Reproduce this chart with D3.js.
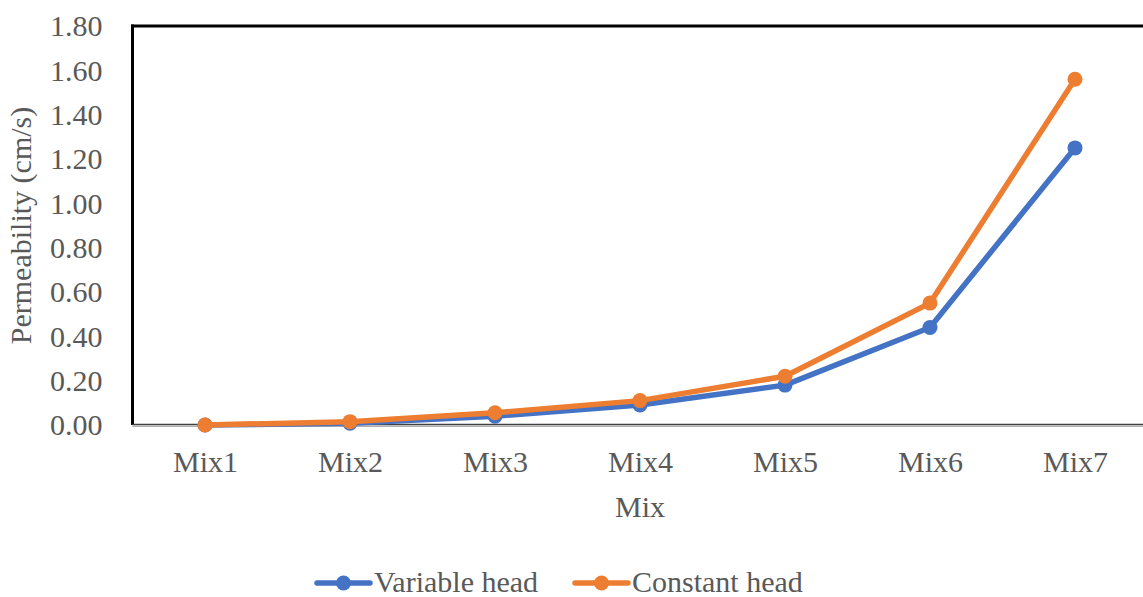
<!DOCTYPE html>
<html>
<head>
<meta charset="utf-8">
<script src="https://cdn.jsdelivr.net/npm/d3@7"></script>
<style>
  html, body { margin: 0; padding: 0; background: #fff; }
  svg { display: block; }
  text { font-family: "Liberation Serif", "Times New Roman", serif; fill: #595959; }
</style>
</head>
<body>
<svg id="chart" width="1143" height="597"></svg>
<script>
// Permeability per mix, two test methods
const mixes = ["Mix1", "Mix2", "Mix3", "Mix4", "Mix5", "Mix6", "Mix7"];
const variableHead = [0.00, 0.008, 0.04, 0.09, 0.18, 0.44, 1.25];
const constantHead = [0.00, 0.015, 0.055, 0.11, 0.22, 0.55, 1.56];
const yTicks = [0, 0.2, 0.4, 0.6, 0.8, 1.0, 1.2, 1.4, 1.6, 1.8];
const seriesNames = ["Variable head", "Constant head"];
const seriesColors = ["#4472C4", "#ED7D31"];

const svg = d3.select("#chart");
const plotLeft = 132.5, plotRight = 1147.5, plotTop = 26, plotBottom = 425;
const fontSize = "30px";

const x = d3.scalePoint().domain(mixes).range([plotLeft, plotRight]).padding(0.5);
const y = d3.scaleLinear().domain([0, 1.8]).range([plotBottom, plotTop]);

// Y axis labels
const yAxis = d3.axisLeft(y).tickValues(yTicks).tickFormat(d3.format(".2f")).tickSize(0).tickPadding(0);
const yg = svg.append("g").attr("transform", `translate(${plotLeft - 30},0)`).call(yAxis);
yg.select(".domain").remove();
yg.selectAll("text").style("font-size", fontSize).attr("fill", "#595959")
  .attr("font-family", "Liberation Serif, serif").attr("dy", "0.33em");

// X axis labels
const xAxis = d3.axisBottom(x).tickSize(0).tickPadding(0);
const xg = svg.append("g").attr("transform", `translate(0,${plotBottom + 47})`).call(xAxis);
xg.select(".domain").remove();
xg.selectAll("text").style("font-size", fontSize).attr("fill", "#595959")
  .attr("font-family", "Liberation Serif, serif").attr("dy", "0");

// Plot frame: left and top borders, category axis line at the bottom
svg.append("line").attr("x1", plotLeft).attr("x2", plotLeft).attr("y1", plotTop - 1.5).attr("y2", plotBottom)
  .attr("stroke", "#000").attr("stroke-width", 3);
svg.append("line").attr("x1", plotLeft - 1.5).attr("x2", 1143).attr("y1", plotTop).attr("y2", plotTop)
  .attr("stroke", "#000").attr("stroke-width", 3);
svg.append("line").attr("x1", plotLeft).attr("x2", 1143).attr("y1", plotBottom - 0.5).attr("y2", plotBottom - 0.5)
  .attr("stroke", "#404040").attr("stroke-width", 1.5);
svg.append("line").attr("x1", plotLeft).attr("x2", 1143).attr("y1", plotBottom + 1.2).attr("y2", plotBottom + 1.2)
  .attr("stroke", "#b0b0b0").attr("stroke-width", 1.5);

// Series lines and markers
const line = d3.line().x((d, i) => x(mixes[i])).y(d => y(d));
[variableHead, constantHead].forEach((vals, s) => {
  const g = svg.append("g");
  g.append("path").datum(vals).attr("d", line).attr("fill", "none")
    .attr("stroke", seriesColors[s]).attr("stroke-width", 5.5).attr("stroke-linejoin", "round");
  g.selectAll("circle").data(vals).join("circle")
    .attr("cx", (d, i) => x(mixes[i])).attr("cy", d => y(d)).attr("r", 7.5)
    .attr("fill", seriesColors[s]);
});

// Axis titles
svg.append("text").attr("x", 640).attr("y", 517).attr("text-anchor", "middle")
  .style("font-size", fontSize).text("Mix");
svg.append("text").attr("transform", `translate(31,${(plotTop + plotBottom) / 2}) rotate(-90)`)
  .attr("text-anchor", "middle").style("font-size", fontSize).text("Permeability (cm/s)");

// Legend
const legendX = [317, 575];
seriesNames.forEach((name, s) => {
  const g = svg.append("g").attr("transform", `translate(${legendX[s]},583)`);
  g.append("line").attr("x1", 0).attr("x2", 53).attr("stroke", seriesColors[s])
    .attr("stroke-width", 5.5).attr("stroke-linecap", "round");
  g.append("circle").attr("cx", 26.5).attr("r", 7.5).attr("fill", seriesColors[s]);
  g.append("text").attr("x", 57).attr("y", 9).style("font-size", fontSize).text(name);
});
</script>
</body>
</html>
